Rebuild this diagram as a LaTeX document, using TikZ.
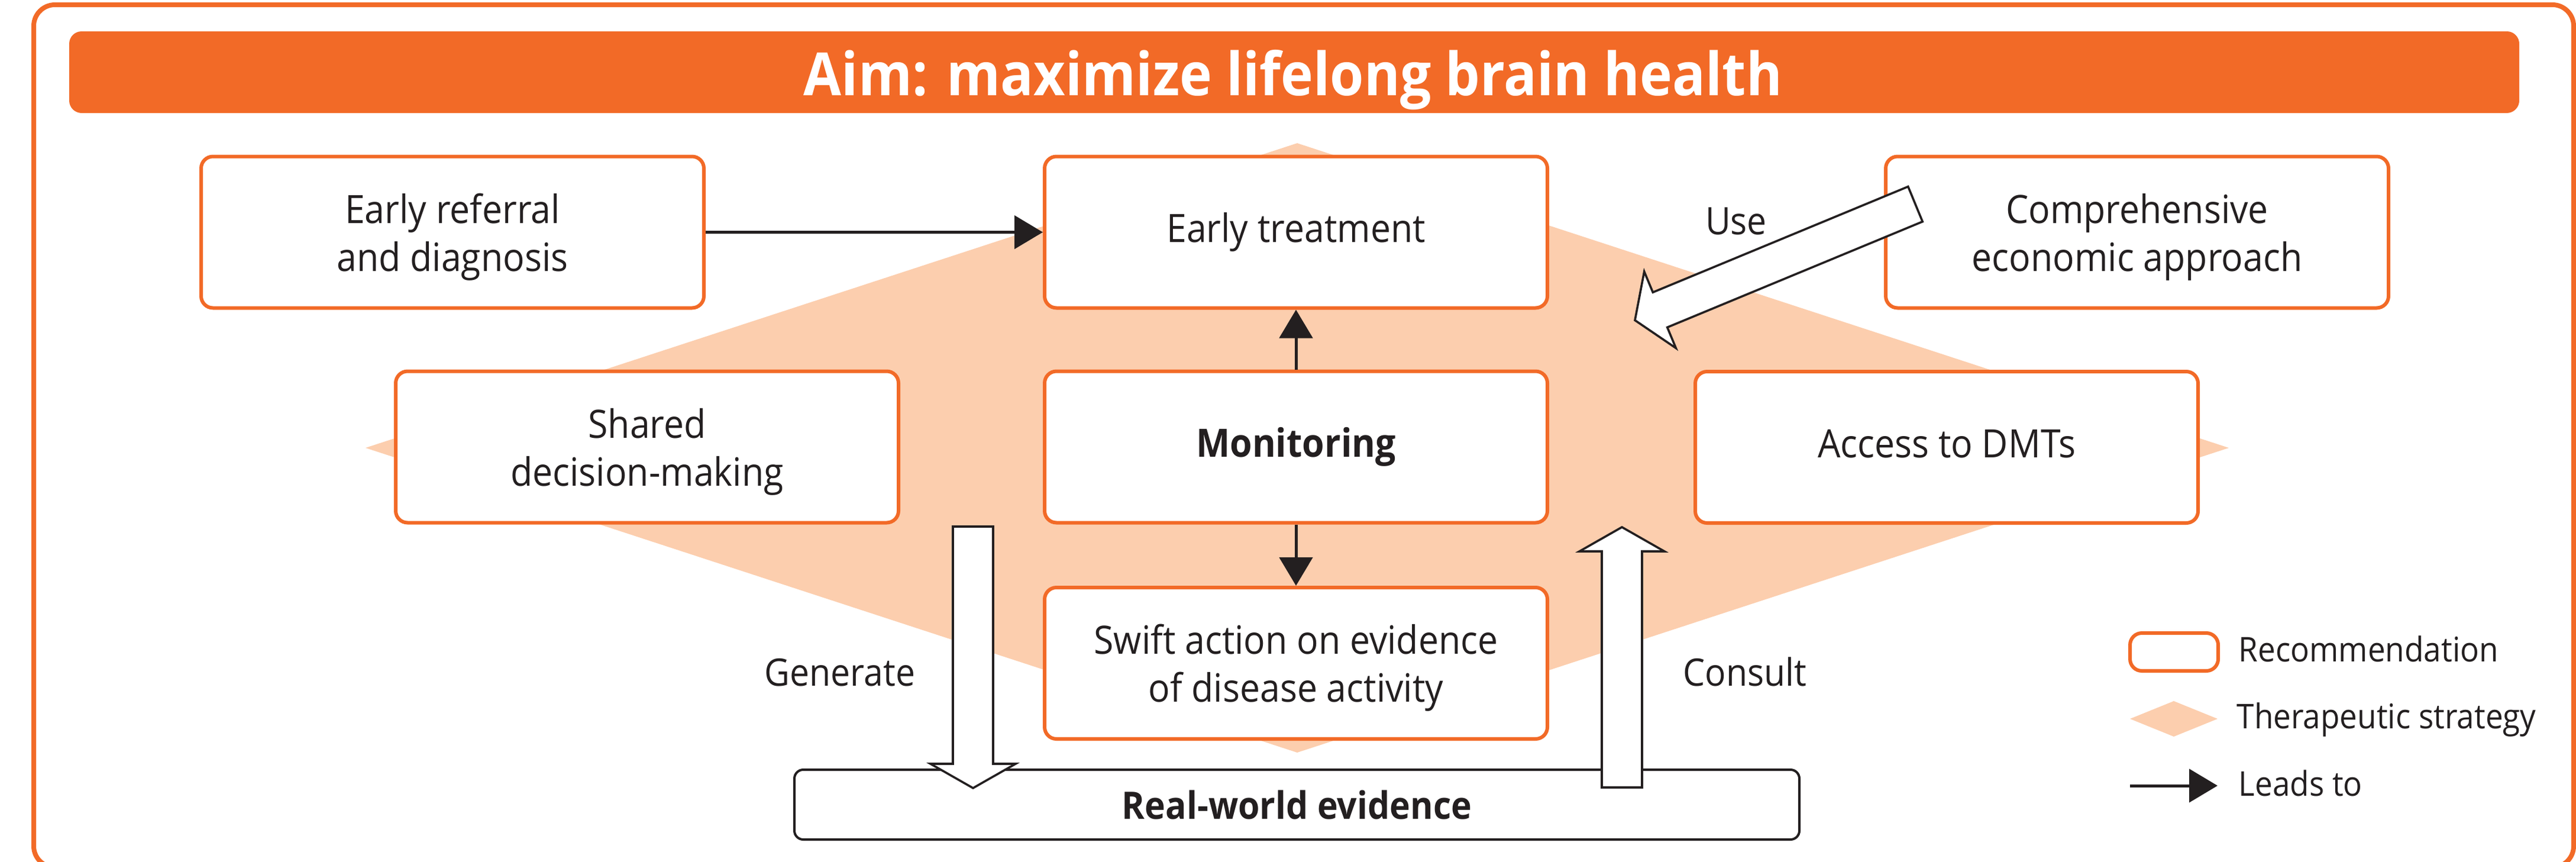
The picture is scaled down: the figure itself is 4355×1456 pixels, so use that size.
\documentclass[tikz,border=0pt]{standalone}
\usepackage{fontspec}
\setmainfont{Open Sans}[FakeStretch=0.92]
\usetikzlibrary{arrows.meta}
\definecolor{orng}{RGB}{242,106,39}
\definecolor{peach}{RGB}{252,206,174}
\definecolor{ink}{RGB}{35,31,32}
\begin{document}
\begin{tikzpicture}[x=0.25pt,y=-0.25pt,
  rec/.style={draw=orng, line width=1.5pt, fill=white, rounded corners=5pt,
    minimum width=212.5pt, minimum height=64pt, inner sep=0pt,
    font=\fontsize{16.5}{20.25}\selectfont, text=ink, align=center},
  one/.style={text height=12.5pt, text depth=4pt},
  lead/.style={draw=ink, line width=1.25pt, -{Triangle[length=12pt,width=14pt]}},
  blk/.style={draw=ink, fill=white, line width=0.9pt, line join=miter},
  lbl/.style={font=\fontsize{16}{19}\selectfont, text=ink, anchor=base, inner sep=0pt},
  leg/.style={font=\fontsize{14.4}{17}\selectfont, text=ink, anchor=base west, inner sep=0pt}]

\useasboundingbox (0,0) rectangle (4355,1456);
\clip (0,0) rectangle (4355,1456);
\fill[white] (0,0) rectangle (4355,1456);

% outer frame and title bar
\draw[orng, line width=2pt, rounded corners=9pt] (57,8) rectangle (4351,1466);
\fill[orng, rounded corners=5.25pt] (117,53) rectangle (4259,191);
\node[font=\bfseries\fontsize{25.2}{30}\selectfont, text=white, inner sep=0pt, anchor=base] (title) at (2186,161) {Aim: maximize lifelong brain health};

% therapeutic strategy diamond
\fill[peach] (2193,242) -- (3768,757) -- (2193,1272) -- (618,757) -- cycle;

% recommendations
\node[rec] (er) at (765,392.5) {\rule{0pt}{1em}Early referral\\and diagnosis};
\node[rec,one] (et) at (2191,392.5) {Early treatment};
\node[rec] (ce) at (3613,392.5) {\rule{0pt}{1em}Comprehensive\\economic approach};
\node[rec] (sd) at (1094,755.5) {\rule{0pt}{1em}Shared\\decision-making};
\node[rec,one,font=\bfseries\fontsize{16.5}{20.25}\selectfont] (mo) at (2191,755.5) {Monitoring};
\node[rec,one] (ad) at (3291,756) {Access to DMTs};
\node[rec] (sw) at (2191,1121) {\rule{0pt}{1em}Swift action on evidence\\of disease activity};

% real-world evidence
\node[draw=ink, line width=1pt, fill=white, rounded corners=3.75pt,
  minimum width=424.75pt, minimum height=29.5pt, inner sep=0pt,
  font=\bfseries\fontsize{16}{19}\selectfont, text=ink] (rwe) at (2192.5,1360) {Real-world evidence};

% leads-to arrows
\draw[lead] (er) -- (et);
\draw[lead] (mo) -- (et);
\draw[lead] (mo) -- (sw);

% block arrows
\draw[blk] (1611,890) -- (1679,890) -- (1679,1291) -- (1717,1291) -- (1645,1332) -- (1573,1291) -- (1611,1291) -- cycle;
\draw[blk] (2708,1331) -- (2776,1331) -- (2776,932) -- (2814,932) -- (2742,891) -- (2670,932) -- (2708,932) -- cycle;
\draw[blk] (3225.8,315.4) -- (2794.3,494.1) -- (2779.7,459.0) -- (2764.0,541.3) -- (2833.3,588.4) -- (2818.7,553.3) -- (3250.2,374.6) -- cycle;

% labels
\node[lbl] (use) at (2935,396) {Use};
\node[lbl] (gen) at (1420,1159) {Generate};
\node[lbl] (con) at (2950,1159) {Consult};

% legend
\node[draw=orng, line width=1.5pt, fill=white, rounded corners=5pt,
  minimum width=37.25pt, minimum height=16pt, inner sep=0pt] (lrec) at (3675.5,1102) {};
\fill[peach] (3601,1215) -- (3675,1185) -- (3749,1215) -- (3675,1245) -- cycle;
\coordinate (la1) at (3601,1328);
\coordinate (la2) at (3749,1328);
\draw[lead] (la1) -- (la2);
\node[leg] (t1) at (3784,1118) {Recommendation};
\node[leg] (t2) at (3781,1231) {Therapeutic strategy};
\node[leg] (t3) at (3784,1345) {Leads to};
\end{tikzpicture}
\end{document}
